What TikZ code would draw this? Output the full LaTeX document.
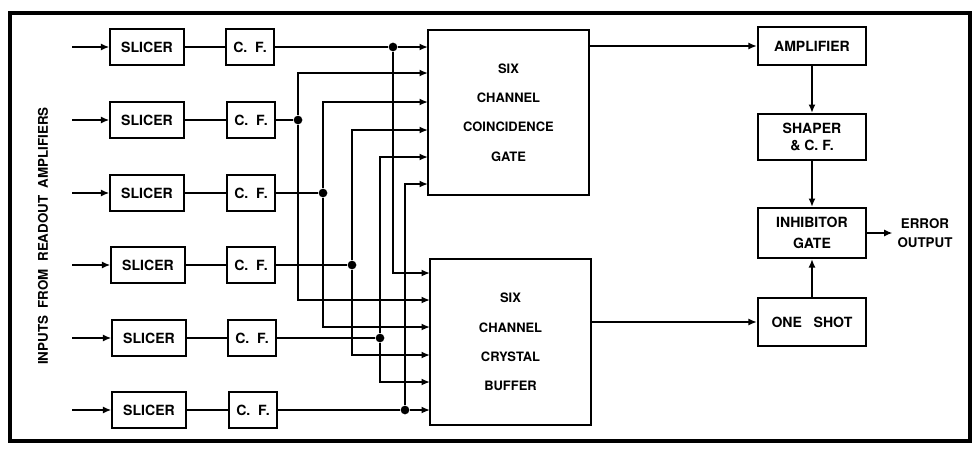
\documentclass[tikz,border=0pt]{standalone}
\usepackage{fontspec}
\setmainfont{TeX Gyre Heros}
\usetikzlibrary{arrows.meta}

\begin{document}
\begin{tikzpicture}[
    x=0.025cm,y=-0.025cm,
    font=\fontsize{10}{12}\selectfont\bfseries,
    box/.style={draw,line width=1.5pt,inner sep=2pt,align=center},
    slicerbox/.style={box,minimum width=1.83cm,minimum height=0.9cm},
    cfbox/.style={box,minimum width=1.18cm,minimum height=0.9cm},
    gatebox/.style={box,minimum width=4.03cm,minimum height=4.13cm,font=\fontsize{9.2}{20.8}\selectfont\bfseries},
    unitbox/.style={box,minimum width=2.7cm},
    wire/.style={line width=1.4pt},
    feed/.style={wire,-{Latex[length=6pt,width=5pt]}},
    junction/.style={circle,fill,inner sep=0pt,minimum size=6.2pt}
]
\useasboundingbox (0,0) rectangle (976,449);
\draw[line width=3.5pt] (10,13) rectangle (970,441);

\node[rotate=90,font=\fontsize{9.5}{12}\selectfont\bfseries] (inlabel) at (43,236) {INPUTS~~FROM~~READOUT~~AMPLIFIERS};

\coordinate (in1) at (72,47);
\coordinate (in2) at (72,120);
\coordinate (in3) at (72,193);
\coordinate (in4) at (72,265);
\coordinate (in5) at (72,338);
\coordinate (in6) at (72,410);

\node[slicerbox] (slicer1) at (147,47) {SLICER};
\node[slicerbox] (slicer2) at (147,120) {SLICER};
\node[slicerbox] (slicer3) at (147,193) {SLICER};
\node[slicerbox] (slicer4) at (148,265) {SLICER};
\node[slicerbox] (slicer5) at (149,338) {SLICER};
\node[slicerbox] (slicer6) at (149,410) {SLICER};

\node[cfbox] (cf1) at (250,47) {C.~~F.};
\node[cfbox] (cf2) at (251,120) {C.~~F.};
\node[cfbox] (cf3) at (251,193) {C.~~F.};
\node[cfbox] (cf4) at (251,265) {C.~~F.};
\node[cfbox] (cf5) at (252,338) {C.~~F.};
\node[cfbox] (cf6) at (253,410) {C.~~F.};

\node[junction] (dot1) at (393,47) {};
\node[junction] (dot2) at (298,120) {};
\node[junction] (dot3) at (323,193) {};
\node[junction] (dot4) at (352,265) {};
\node[junction] (dot5) at (380,338) {};
\node[junction] (dot6) at (405,410) {};

\node[gatebox] (coinc) at (508.5,112.5) {SIX\\CHANNEL\\COINCIDENCE\\GATE};
\node[gatebox] (buffer) at (510.5,342) {SIX\\CHANNEL\\CRYSTAL\\BUFFER};

\coordinate (coinc1) at (428,47);
\coordinate (coinc2) at (428,73);
\coordinate (coinc3) at (428,102);
\coordinate (coinc4) at (428,130);
\coordinate (coinc5) at (428,157);
\coordinate (coinc6) at (428,184);
\coordinate (buffer1) at (430,273);
\coordinate (buffer2) at (430,300);
\coordinate (buffer3) at (430,327);
\coordinate (buffer4) at (430,355);
\coordinate (buffer5) at (430,382);
\coordinate (buffer6) at (430,410);

\node[unitbox,minimum height=0.93cm] (amp) at (812,46) {AMPLIFIER};
\node[unitbox,minimum height=1.15cm,font=\fontsize{10}{11.5}\selectfont\bfseries] (shaper) at (812,137) {SHAPER\\\& C.~F.};
\node[unitbox,minimum height=1.25cm,font=\fontsize{10}{14.5}\selectfont\bfseries] (inhib) at (812,233) {INHIBITOR\\GATE};
\node[unitbox,minimum height=1.2cm] (oneshot) at (812,322) {ONE~~~SHOT};
\node[align=center,font=\fontsize{9.5}{13.5}\selectfont\bfseries] (errout) at (925,233) {ERROR\\OUTPUT};

\draw[feed] (in1) -- (slicer1);
\draw[feed] (in2) -- (slicer2);
\draw[feed] (in3) -- (slicer3);
\draw[feed] (in4) -- (slicer4);
\draw[feed] (in5) -- (slicer5);
\draw[feed] (in6) -- (slicer6);

\draw[wire] (slicer1) -- (cf1);
\draw[wire] (slicer2) -- (cf2);
\draw[wire] (slicer3) -- (cf3);
\draw[wire] (slicer4) -- (cf4);
\draw[wire] (slicer5) -- (cf5);
\draw[wire] (slicer6) -- (cf6);

\draw[wire] (cf1) -- (dot1);
\draw[wire] (cf2) -- (dot2);
\draw[wire] (cf3) -- (dot3);
\draw[wire] (cf4) -- (dot4);
\draw[wire] (cf5) -- (dot5);
\draw[wire] (cf6) -- (dot6);

\draw[feed] (dot1) -- (coinc1);
\draw[feed] (dot2) |- (coinc2);
\draw[feed] (dot3) |- (coinc3);
\draw[feed] (dot4) |- (coinc4);
\draw[feed] (dot5) |- (coinc5);
\draw[feed] (dot6) |- (coinc6);

\draw[feed] (dot1) |- (buffer1);
\draw[feed] (dot2) |- (buffer2);
\draw[feed] (dot3) |- (buffer3);
\draw[feed] (dot4) |- (buffer4);
\draw[feed] (dot5) |- (buffer5);
\draw[feed] (dot6) -- (buffer6);

\draw[feed] (coinc.east |- amp) -- (amp);
\draw[feed] (buffer.east |- oneshot) -- (oneshot);
\draw[feed] (amp) -- (shaper);
\draw[feed] (shaper) -- (inhib);
\draw[feed] (oneshot) -- (inhib);
\draw[feed] (inhib) -- (errout);
\end{tikzpicture}
\end{document}
